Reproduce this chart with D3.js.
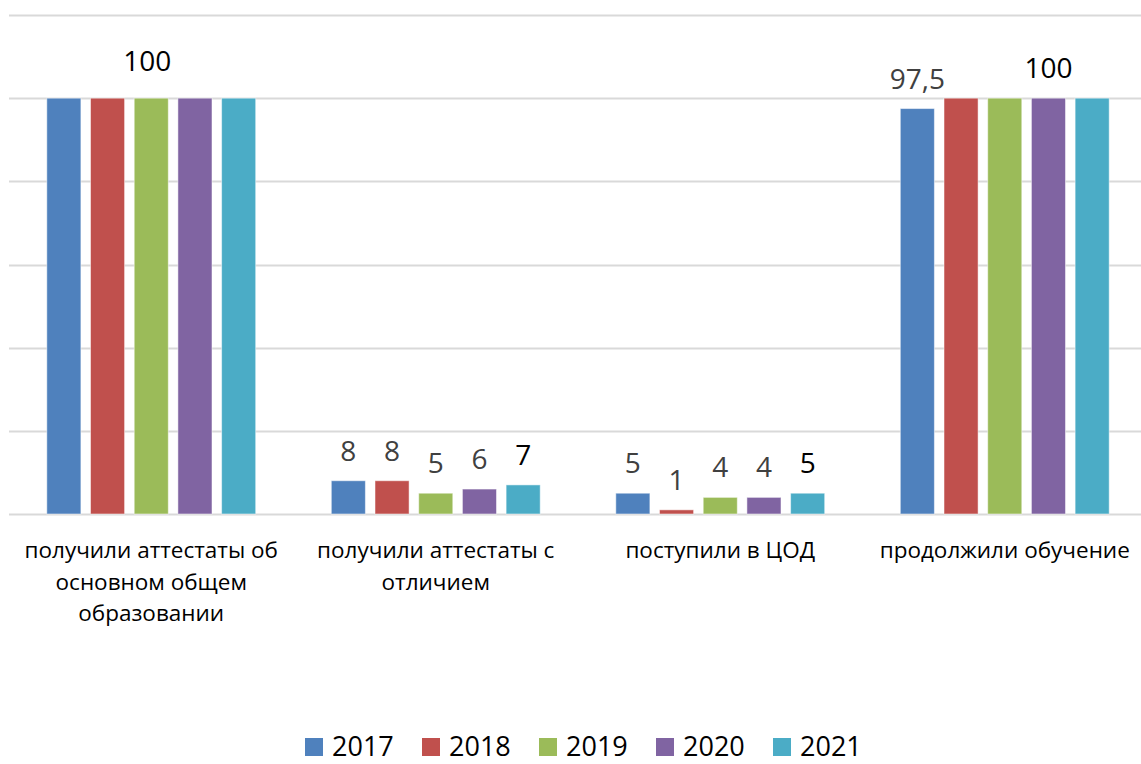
<!DOCTYPE html>
<html>
<head>
<meta charset="utf-8">
<script src="https://cdn.jsdelivr.net/npm/d3@7"></script>
<style>
  body { margin: 0; background: #fff; }
  text { font-family: "Open Sans", sans-serif; }
</style>
</head>
<body>
<div id="chart"></div>
<script>
// Chart data
var categories = [
  "получили аттестаты об основном общем образовании",
  "получили аттестаты с отличием",
  "поступили в ЦОД",
  "продолжили обучение"
];
var catLines = [
  ["получили аттестаты об", "основном общем", "образовании"],
  ["получили аттестаты с", "отличием"],
  ["поступили в ЦОД"],
  ["продолжили обучение"]
];
var years = ["2017", "2018", "2019", "2020", "2021"];
var v2017 = [100, 8, 5, 97.5];
var v2018 = [100, 8, 1, 100];
var v2019 = [100, 5, 4, 100];
var v2020 = [100, 6, 4, 100];
var v2021 = [100, 7, 5, 100];
var yTicks = [0, 20, 40, 60, 80, 100, 120];
// which data labels show (Excel hides the overlapping ones)
var shownLabels = [
  [false, true, true, true],
  [false, true, true, false],
  [true, true, true, false],
  [false, true, true, true],
  [false, true, true, false]
];
var colors = ["#4F81BD", "#C0504D", "#9BBB59", "#8064A2", "#4BACC6"];

var series = [v2017, v2018, v2019, v2020, v2021];

var svgWidth = 1141;
var svgHeight = 764;
var margin = { top: 15, right: -6, bottom: 250, left: 9 };
var width = svgWidth - margin.left - margin.right;
var height = svgHeight - margin.top - margin.bottom;

var svg = d3.select("#chart")
  .append("svg")
  .attr("width", svgWidth)
  .attr("height", svgHeight);

var chartGroup = svg.append("g")
  .attr("transform", `translate(${margin.left}, ${margin.top})`);

// Scales
var x0 = d3.scaleBand()
  .domain(categories)
  .range([0, width])
  .padding(0);

var x1 = d3.scaleBand()
  .domain(years)
  .range([0, x0.bandwidth()])
  .paddingInner(0.22)
  .paddingOuter(0.865);

var y = d3.scaleLinear()
  .domain([0, 120])
  .range([height, 0]);

// gridlines
chartGroup.append("g")
  .selectAll("line")
  .data(yTicks)
  .enter()
  .append("line")
  .attr("x1", 0)
  .attr("x2", width)
  .attr("y1", d => Math.round(y(d)) + 0.5)
  .attr("y2", d => Math.round(y(d)) + 0.5)
  .attr("stroke", "#d9d9d9")
  .attr("stroke-width", 2);

// bars
var groups = chartGroup.selectAll(".cat")
  .data(categories)
  .enter()
  .append("g")
  .attr("class", "cat")
  .attr("transform", d => `translate(${x0(d)}, 0)`);

groups.selectAll("rect")
  .data((d, i) => years.map((yr, j) => ({ yr: yr, j: j, v: series[j][i], i: i })))
  .enter()
  .append("rect")
  .attr("x", d => x1(d.yr))
  .attr("y", d => y(d.v))
  .attr("width", x1.bandwidth())
  .attr("height", d => height - y(d.v))
  .attr("fill", d => colors[d.j])
  .attr("stroke", "#fff")
  .attr("stroke-opacity", 0.5)
  .attr("stroke-width", 1);

// data labels
groups.selectAll(".lbl")
  .data((d, i) => years.map((yr, j) => ({ yr: yr, j: j, v: series[j][i], i: i }))
    .filter(d => shownLabels[d.j][d.i]))
  .enter()
  .append("text")
  .attr("class", "lbl")
  .attr("x", d => x1(d.yr) + x1.bandwidth() / 2 + (d.i === 0 ? -4 : 0))
  .attr("y", d => y(d.v) - (d.i === 0 ? 27 : 20))
  .attr("text-anchor", "middle")
  .style("font-size", "28px")
  .attr("fill", d => (d.j === 4 || d.v === 100) ? "#000" : "#404040")
  .text(d => String(d.v).replace(".", ","));

// category labels
var xLabels = chartGroup.append("g")
  .attr("transform", `translate(0, ${height})`);
categories.forEach((c, i) => {
  var t = xLabels.append("text")
    .attr("x", x0(c) + x0.bandwidth() / 2)
    .attr("y", 44)
    .attr("text-anchor", "middle")
    .style("font-size", "22.5px")
    .attr("fill", "#000");
  catLines[i].forEach((line, k) => {
    t.append("tspan")
      .attr("x", x0(c) + x0.bandwidth() / 2)
      .attr("dy", k === 0 ? 0 : 31.5)
      .text(line);
  });
});

// legend
var legend = svg.append("g")
  .attr("transform", "translate(305, 738)");
var items = legend.selectAll(".item")
  .data(years)
  .enter()
  .append("g")
  .attr("class", "item")
  .attr("transform", (d, i) => `translate(${i * 117}, 0)`);
items.append("rect")
  .attr("width", 18)
  .attr("height", 18)
  .attr("y", 0)
  .attr("fill", (d, i) => colors[i]);
items.append("text")
  .attr("x", 27)
  .attr("y", 18)
  .style("font-size", "27px")
  .attr("fill", "#000")
  .text(d => d);
</script>
</body>
</html>
